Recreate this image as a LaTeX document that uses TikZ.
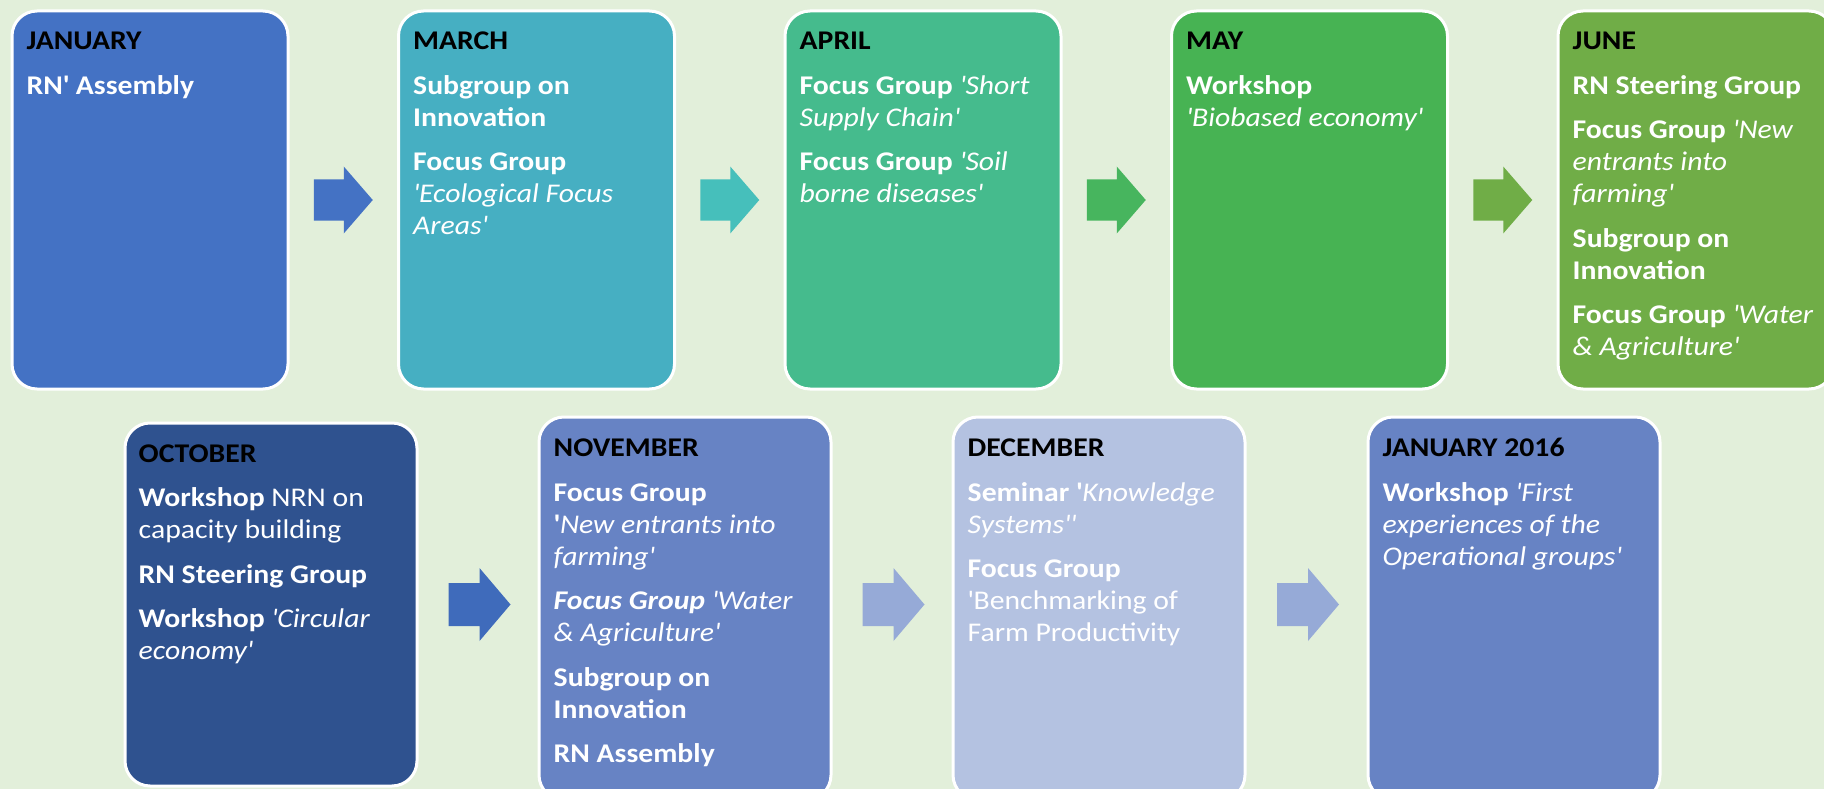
\documentclass[tikz,border=0pt]{standalone}
\usepackage{fontspec}
\setmainfont{Carlito}[FakeStretch=1.1]
\usetikzlibrary{calc}
\definecolor{bg}{HTML}{E2EFDA}
\definecolor{cjan}{HTML}{4472C4}
\definecolor{cmar}{HTML}{46AFC2}
\definecolor{capr}{HTML}{45BB8D}
\definecolor{cmay}{HTML}{47B353}
\definecolor{cjun}{HTML}{70AD47}
\definecolor{aMar}{HTML}{46BFBB}
\definecolor{aApr}{HTML}{47B55E}
\definecolor{coct}{HTML}{2F528F}
\definecolor{cnov}{HTML}{6783C4}
\definecolor{cdec}{HTML}{B4C2E1}
\definecolor{aNov}{HTML}{3F6BBB}
\definecolor{aDec}{HTML}{96AAD7}
\newcommand{\q}{\textquotesingle}
\newcommand{\ttl}[1]{{\color{black}\bfseries #1}}
\newcommand{\evtext}[1]{\parbox[t]{330pt}{\fontsize{27}{32}\selectfont\raggedright\setlength{\parskip}{12.5pt}\setlength{\parindent}{0pt}\leavevmode\color{white}#1}}
\tikzset{
  evbox/.style={draw=white, line width=3pt, rounded corners=25pt, minimum width=276pt, minimum height=378pt, anchor=north west, inner sep=0pt},
  evboxb/.style={evbox, minimum width=292pt, minimum height=383pt},
  evtxt/.style={anchor=base west, inner sep=0pt},
  tarrow/.pic={\fill (-29.5,-20.5) -- (0.5,-20.5) -- (0.5,-33.5) -- (29.5,0) -- (0.5,33.5) -- (0.5,20.5) -- (-29.5,20.5) -- cycle;},
  barrow/.pic={\fill (-31,-21.5) -- (0,-21.5) -- (0,-36.5) -- (31,0) -- (0,36.5) -- (0,21.5) -- (-31,21.5) -- cycle;}
}
\begin{document}
\begin{tikzpicture}[x=1pt,y=-1pt]
\useasboundingbox (0,0) rectangle (1824,789);
\fill[bg] (0,0) rectangle (1824,789);
% top row
\node[evbox, fill=cjan] (jan) at (10.5,9.5) {};
\node[evbox, fill=cmar] (mar) at (397,9.5) {};
\node[evbox, fill=capr] (apr) at (783.5,9.5) {};
\node[evbox, fill=cmay] (may) at (1170,9.5) {};
\node[evbox, fill=cjun] (jun) at (1556.5,9.5) {};
% bottom row
\node[evboxb, fill=coct, minimum height=363pt] (oct) at (123.5,421.5) {};
\node[evboxb, fill=cnov] (nov) at (537.5,415.5) {};
\node[evboxb, fill=cdec] (dec) at (951.5,415.5) {};
\node[evboxb, fill=cnov] (jsix) at (1366.5,415.5) {};
% texts
\node[evtxt] (tjan) at ($(jan.north west)+(16,40.5)$) {\evtext{\ttl{JANUARY}\par {\bfseries RN\q{} Assembly}}};
\node[evtxt] (tmar) at ($(mar.north west)+(16,40.5)$) {\evtext{\ttl{MARCH}\par {\bfseries Subgroup on\\Innovation}\par {\bfseries Focus Group}\\\textit{\q Ecological Focus\\Areas\q}}};
\node[evtxt] (tapr) at ($(apr.north west)+(16,40.5)$) {\evtext{\ttl{APRIL}\par {\bfseries Focus Group} \textit{\q Short\\Supply Chain\q}\par {\bfseries Focus Group} \textit{\q Soil\\borne diseases\q}}};
\node[evtxt] (tmay) at ($(may.north west)+(16,40.5)$) {\evtext{\ttl{MAY}\par {\bfseries Workshop}\\\textit{\q Biobased economy\q}}};
\node[evtxt] (tjun) at ($(jun.north west)+(16,40.5)$) {\evtext{\ttl{JUNE}\par {\bfseries RN Steering Group}\par {\bfseries Focus Group} \textit{\q New\\entrants into\\farming\q}\par {\bfseries Subgroup on\\Innovation}\par {\bfseries Focus Group} \textit{\q Water\\\& Agriculture\q}}};
\node[evtxt] (toct) at ($(oct.north west)+(15,40.5)$) {\evtext{\ttl{OCTOBER}\par {\bfseries Workshop} NRN on\\capacity building\par {\bfseries RN Steering Group}\par {\bfseries Workshop} \textit{\q Circular\\economy\q}}};
\node[evtxt] (tnov) at ($(nov.north west)+(16,41)$) {\evtext{\ttl{NOVEMBER}\par {\bfseries Focus Group}\\{\bfseries\q}\textit{New entrants into\\farming\q}\par {\bfseries\itshape Focus Group} \textit{\q Water\\\& Agriculture\q}\par {\bfseries Subgroup on\\Innovation}\par {\bfseries RN Assembly}}};
\node[evtxt] (tdec) at ($(dec.north west)+(16,41)$) {\evtext{\ttl{DECEMBER}\par {\bfseries Seminar \q}\textit{Knowledge\\Systems\q\q}\par {\bfseries Focus Group}\\\q Benchmarking of\\Farm Productivity}};
\node[evtxt] (tjsix) at ($(jsix.north west)+(16,41)$) {\evtext{\ttl{JANUARY 2016}\par {\bfseries Workshop} \textit{\q First\\experiences of the\\Operational groups\q}}};
% arrows
\coordinate (a1) at ($(jan.east)!0.5!(mar.west)$);
\coordinate (a2) at ($(mar.east)!0.5!(apr.west)$);
\coordinate (a3) at ($(apr.east)!0.5!(may.west)$);
\coordinate (a4) at ($(may.east)!0.5!(jun.west)$);
\path let \p1=($(oct.east)!0.5!(nov.west)$), \p2=(oct.east) in coordinate (b1) at (\x1+1.5,\y2);
\path let \p1=($(nov.east)!0.5!(dec.west)$), \p2=(oct.east) in coordinate (b2) at (\x1+1.5,\y2);
\path let \p1=($(dec.east)!0.5!(jsix.west)$), \p2=(oct.east) in coordinate (b3) at (\x1+1.5,\y2);
\pic[fill=cjan] at (a1) {tarrow};
\pic[fill=aMar] at (a2) {tarrow};
\pic[fill=aApr] at (a3) {tarrow};
\pic[fill=cjun] at (a4) {tarrow};
\pic[fill=aNov] at (b1) {barrow};
\pic[fill=aDec] at (b2) {barrow};
\pic[fill=aDec] at (b3) {barrow};
\end{tikzpicture}
\end{document}
